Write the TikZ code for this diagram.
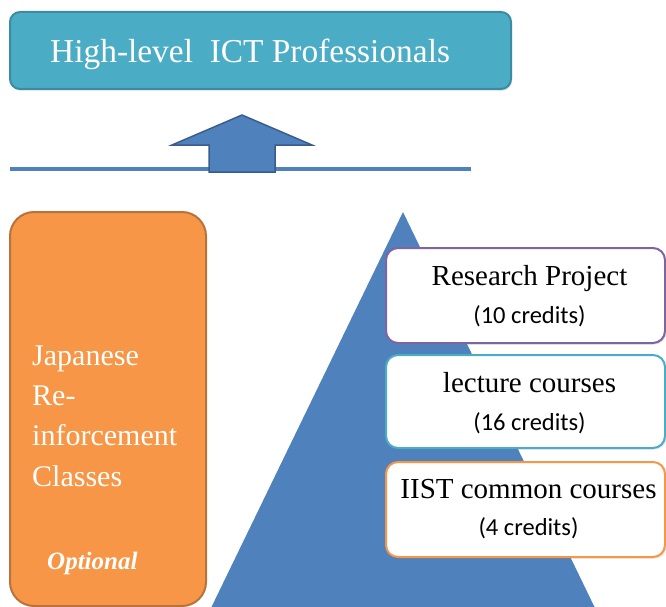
\documentclass[tikz,border=0pt]{standalone}
\usepackage{fontspec}
\setmainfont{Liberation Serif}
\newfontfamily\calfont{Carlito}
\usetikzlibrary{shadows}
\definecolor{teal1}{HTML}{4BACC6}
\definecolor{teal2}{HTML}{3B8CA3}
\definecolor{orng1}{HTML}{F79646}
\definecolor{orng2}{HTML}{B8723C}
\definecolor{blu1}{HTML}{4F81BD}
\definecolor{blu2}{HTML}{385D8A}
\definecolor{purp}{HTML}{8064A2}
\tikzset{
  box/.style={draw, line width=2pt, inner sep=0pt},
  sbox/.style={box, fill=white, rounded corners=12pt, minimum width=279pt,
    drop shadow={opacity=0.2, shadow xshift=1.5pt, shadow yshift=-1.5pt}},
  txt/.style={inner sep=0pt, anchor=base},
  serif/.style={txt, font=\fontsize{29}{31}\selectfont},
  cred/.style={txt, font=\calfont\fontsize{24.5}{26}\selectfont},
  wtxt/.style={inner sep=0pt, anchor=base west, text=white, font=\fontsize{30}{32}\selectfont}
}
\begin{document}
\begin{tikzpicture}[x=1pt,y=-1pt]
\useasboundingbox (0,0) rectangle (666,607);
\begin{scope}
\clip (0,0) rectangle (666,607);
% top box
\node[box, fill=teal1, draw=teal2, rounded corners=10pt, minimum width=501pt, minimum height=77pt,
  drop shadow={opacity=0.2, shadow xshift=1pt, shadow yshift=-2pt}] (top) at (260.5,50.5) {};
\node[inner sep=0pt, anchor=base west, text=white, font=\fontsize{33.4}{35}\selectfont] (toptxt) at (50,63) {High-level\ \ ICT Professionals};
% base line and arrow
\coordinate (la) at (10,169);
\coordinate (lb) at (471,169);
\draw[blu1, line width=3.5pt] (la) -- (lb);
\draw[draw=blu2, fill=blu1, line width=1.5pt, line join=miter]
  (242,115) -- (312,145) -- (275,145) -- (275,172) -- (209,172) -- (209,145) -- (172,145) -- cycle;
% orange box
\node[box, fill=orng1, draw=orng2, rounded corners=24pt, minimum width=196pt, minimum height=394pt] (jp) at (108,409) {};
\node[wtxt] (j1) at (32,365) {Japanese};
\node[wtxt] (j2) at (32,405) {Re-};
\node[wtxt] (j3) at (32,445) {inforcement};
\node[wtxt] (j4) at (32,486) {Classes};
\node[inner sep=0pt, anchor=base west, text=white, font=\fontsize{25}{27}\selectfont\bfseries\itshape] (opt) at (47,569) {Optional};
% triangle
\fill[blu1] (403,212) -- (595,608) -- (211,608) -- cycle;
% right boxes
\node[sbox, draw=purp, minimum height=95pt] (rp) at (525.5,295.5) {};
\node[sbox, draw=teal1, minimum height=93pt] (lc) at (525.5,401.5) {};
\node[sbox, draw=orng1, minimum height=95pt] (ci) at (525.5,509.5) {};
\node[serif] (rpt) at (529.5,285) {Research Project};
\node[cred] (rpc) at (529.5,323) {(10 credits)};
\node[serif] (lct) at (529.5,392) {lecture courses};
\node[cred] (lcc) at (529.5,430) {(16 credits)};
\node[serif] (cit) at (528.5,498) {IIST\ common courses};
\node[cred] (cic) at (528.5,535) {(4 credits)};
\end{scope}
\end{tikzpicture}
\end{document}
